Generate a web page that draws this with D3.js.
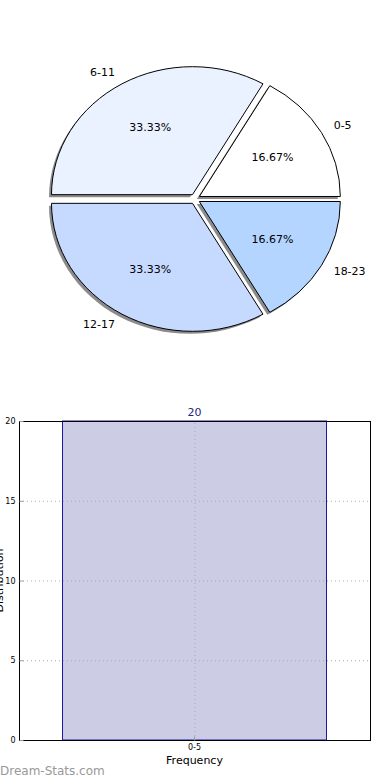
<!DOCTYPE html>
<html>
<head>
<meta charset="utf-8">
<script src="https://cdn.jsdelivr.net/npm/d3@7"></script>
<style>
  body { margin: 0; background: #fff; }
  svg { display: block; font-family: "DejaVu Sans", sans-serif; }
</style>
</head>
<body>
<svg id="chart" width="390" height="780"></svg>
<script>
// pie data
const ageGroups = ['0-5', '6-11', '12-17', '18-23'];
const shares = [16.67, 33.33, 33.33, 16.67];
const sliceColors = ['#ffffff', '#ebf2ff', '#c6d9ff', '#b4d5ff'];

// bar data
const barCategories = ['0-5'];
const barValues = [20];
const yTicks = [0, 5, 10, 15, 20];

const svg = d3.select('#chart');

// ---------- pie ----------
const cx = 195, cy = 199;
const rx = 141, ry = 128;
const explode = 5;

// matplotlib style: start at 3 o'clock, go counterclockwise
const pie = d3.pie().sort(null).startAngle(Math.PI / 2).endAngle(Math.PI / 2 - 2 * Math.PI);
const arcs = pie(shares);
const arc = d3.arc().innerRadius(0).outerRadius(1);

// convert d3 angle (0 = up, clockwise) to point on ellipse
const pt = (a, r) => [r * rx * Math.sin(a), -r * ry * Math.cos(a)];

const pieG = svg.append('g').attr('transform', `translate(${cx},${cy})`);

arcs.forEach((d, i) => {
  const mid = (d.startAngle + d.endAngle) / 2;
  const ox = explode * Math.sin(mid), oy = -explode * Math.cos(mid);
  const g = pieG.append('g').attr('transform', `translate(${ox},${oy})`);
  // shadow
  g.append('path')
    .attr('d', arc(d))
    .attr('transform', `translate(-2.5,2.5) scale(${rx},${ry})`)
    .attr('fill', '#777')
    .attr('opacity', 0.85);
  g.append('path')
    .attr('d', arc(d))
    .attr('transform', `scale(${rx},${ry})`)
    .attr('fill', sliceColors[i])
    .attr('stroke', '#000')
    .attr('stroke-width', 1)
    .attr('vector-effect', 'non-scaling-stroke');

  const [px, py] = pt(mid, 0.6);
  g.append('text')
    .attr('x', px).attr('y', py)
    .attr('text-anchor', 'middle')
    .attr('dominant-baseline', 'middle')
    .attr('font-size', 11)
    .text(shares[i].toFixed(2) + '%');

  const [lx, ly] = pt(mid, 1.1);
  g.append('text')
    .attr('x', lx).attr('y', ly)
    .attr('text-anchor', lx > 0 ? 'start' : 'end')
    .attr('dominant-baseline', 'middle')
    .attr('font-size', 11)
    .text(ageGroups[i]);
});

// ---------- bar ----------
const margin = { top: 421, left: 19, right: 20, bottom: 40 };
const x0 = margin.left, x1 = 390 - margin.right;
const y0 = 780 - margin.bottom, y1 = margin.top;

const xScale = d3.scaleBand().domain(barCategories).range([x0, x1]).padding(0.1415);
const yScale = d3.scaleLinear().domain([0, 20]).range([y0, y1]);

const barG = svg.append('g');

barG.selectAll('.bar')
  .data(barValues)
  .enter()
  .append('rect')
  .attr('class', 'bar')
  .attr('x', (d, i) => xScale(barCategories[i]))
  .attr('y', d => yScale(d))
  .attr('width', xScale.bandwidth())
  .attr('height', d => yScale(0) - yScale(d))
  .attr('fill', '#ccccE5')
  .attr('stroke', '#1a1aa0')
  .attr('stroke-width', 1);

// grid
barG.selectAll('.hgrid')
  .data(yTicks)
  .enter()
  .append('line')
  .attr('x1', x0).attr('x2', x1)
  .attr('y1', d => yScale(d) + 0.5).attr('y2', d => yScale(d) + 0.5)
  .attr('stroke', '#aaa')
  .attr('stroke-dasharray', '1,3');

barG.selectAll('.vgrid')
  .data(barCategories)
  .enter()
  .append('line')
  .attr('x1', d => xScale(d) + xScale.bandwidth() / 2 + 0.5)
  .attr('x2', d => xScale(d) + xScale.bandwidth() / 2 + 0.5)
  .attr('y1', y0).attr('y2', y1)
  .attr('stroke', '#aaa')
  .attr('stroke-dasharray', '1,3');

// frame
barG.append('rect')
  .attr('x', x0 + 0.5).attr('y', y1 + 0.5)
  .attr('width', x1 - x0).attr('height', y0 - y1)
  .attr('fill', 'none')
  .attr('stroke', '#000');

// axes
const yAxis = d3.axisLeft(yScale).tickValues(yTicks).tickSize(-4).tickPadding(4).tickFormat(d3.format('d'));
const yAxisG = barG.append('g').attr('transform', `translate(${x0 + 0.5},0)`).call(yAxis);
yAxisG.select('.domain').remove();
yAxisG.selectAll('text').attr('font-size', 8).attr('font-family', '"DejaVu Sans", sans-serif');
yAxisG.selectAll('line').attr('stroke', '#999');

const xAxis = d3.axisBottom(xScale).tickSize(-4).tickPadding(4);
const xAxisG = barG.append('g').attr('transform', `translate(0,${y0 + 0.5})`).call(xAxis);
xAxisG.select('.domain').remove();
xAxisG.selectAll('text').attr('font-size', 8).attr('font-family', '"DejaVu Sans", sans-serif');
xAxisG.selectAll('line').attr('stroke', '#999');

// value label
barG.selectAll('.vlabel')
  .data(barValues)
  .enter()
  .append('text')
  .attr('x', (d, i) => xScale(barCategories[i]) + xScale.bandwidth() / 2)
  .attr('y', d => yScale(d) - 5)
  .attr('text-anchor', 'middle')
  .attr('font-size', 11)
  .attr('fill', '#262680')
  .text(d => d);

// axis titles
svg.append('text')
  .attr('x', (x0 + x1) / 2).attr('y', 764)
  .attr('text-anchor', 'middle')
  .attr('font-size', 11)
  .text('Frequency');

svg.append('text')
  .attr('transform', `translate(3,${(y0 + y1) / 2}) rotate(-90)`)
  .attr('text-anchor', 'middle')
  .attr('font-size', 11)
  .text('Distribution');

// watermark
svg.append('text')
  .attr('x', 0).attr('y', 775)
  .attr('font-size', 12)
  .attr('fill', '#999')
  .text('Dream-Stats.com');
</script>
</body>
</html>
